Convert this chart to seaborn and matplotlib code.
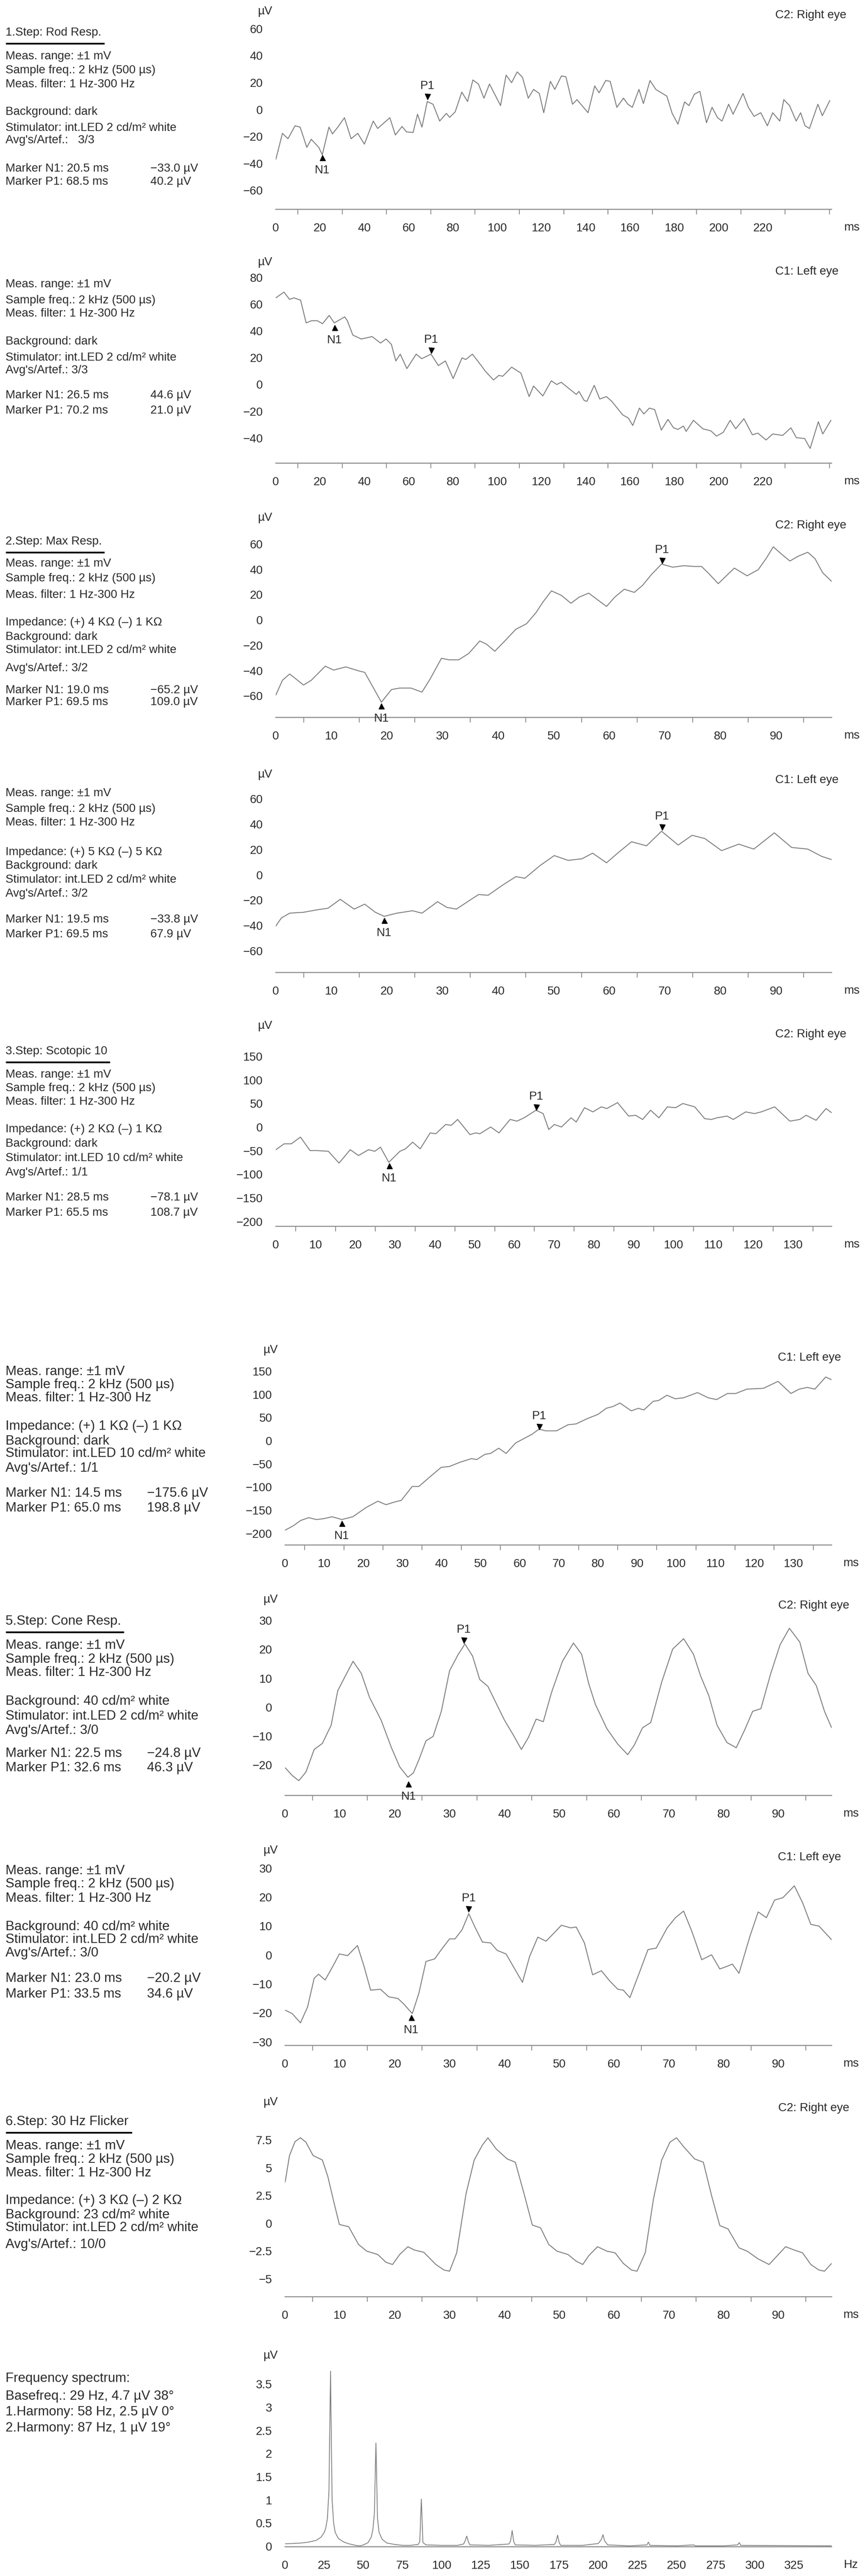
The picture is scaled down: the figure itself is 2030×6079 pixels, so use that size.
import matplotlib
matplotlib.use("Agg")
import numpy as np
import pandas as pd
import matplotlib.pyplot as plt
import seaborn as sns
from matplotlib.lines import Line2D

W, H = 2031, 6079
PT = 0.72  # points per pixel at dpi=100

TRACE = "#7a7a7a"
AXIS = "#8e8e8e"
TEXT = "#2a2a2a"

# ---------------- data (t in ms / f in Hz, amplitude in uV) ----------------
rod_right = [(0, -37), (3, -17.6), (5.5, -21.6), (8.7, -12), (11, -13), (14, -28), (16, -22), (19.4, -28),
             (21, -33.5), (24, -13), (25.6, -18), (28, -13), (31, -6), (34, -21.6), (37, -17.6), (40, -25.6),
             (44, -8.5), (46, -14), (51.5, -6), (54, -18.8), (57, -12.5), (59, -16.5), (62, -17), (64, -3.4),
             (66, -13), (68.4, 6), (71, 4), (74, -8.5), (77, -2.8), (78.5, -5.7), (81, -1.7), (84, 13),
             (86.6, 6), (89, 22), (91.5, 19), (94, 8.5), (96.5, 19), (99, 11), (101.5, 3), (104, 25.6),
             (106.5, 20), (109, 28), (111.4, 24), (114, 8.5), (116.4, 15), (119, 12), (121, -2.3), (124, 21),
             (126, 15), (129, 25), (131, 24.4), (134, 4), (136, 7.4), (141, -2.3), (144, 17.6), (146, 12.5),
             (149, 21.6), (151, 21), (154, 1.7), (157, 8.5), (159, 4), (161, 1.7), (164, 15), (166, 4.5),
             (169, 21.6), (171.6, 15), (176.6, 10), (179, -2.8), (181.6, -10.8), (184.6, 5.7), (186.6, 3),
             (189, 11.4), (191.5, 13.6), (194.5, -9.7), (197, 1.7), (199.5, -6), (201.5, -8.5), (204.5, 4),
             (206.5, -3.4), (211, 12), (213.4, 1.7), (216, -5), (219, -2.3), (222, -12), (224.4, -2.3),
             (227.6, -8.5), (229.4, 7.4), (232, 3), (235, -8.5), (237, -2.3), (239, -12), (241, -14),
             (244.8, 4), (246.8, -4.5), (250.2, 6.8)]

rod_left = [(0, 64.7), (3.7, 69), (6.2, 63.6), (8.2, 64.7), (11.2, 63), (13.7, 46), (16.2, 47.7), (18.7, 47.7),
            (21.1, 45.4), (24.1, 51.6), (26.4, 46), (31.1, 50.5), (32.3, 47.7), (34.8, 36.9), (38.6, 34),
            (43.5, 35.8), (47.3, 31), (49.8, 34), (52.2, 30), (54.2, 17.6), (56.2, 22.7), (59.2, 11.9),
            (63.4, 22.7), (65.9, 19.3), (70.1, 22.7), (73.4, 14.2), (76.6, 17.6), (80.1, 4.5), (84.1, 19.9),
            (85.8, 18.7), (88.8, 22.7), (93.3, 13), (94.5, 10.2), (98.3, 3.4), (100.7, 6.8), (102.5, 6.2),
            (106.5, 13), (110.7, 8.5), (114.4, -9), (116.4, -1.1), (120.6, -8.5), (124.4, 2.8), (126.9, 0),
            (128.9, 1.7), (135.7, -7.4), (136.9, -5.1), (139.3, -12), (140.5, -12.5), (143.8, -0.6),
            (146.3, -10.8), (149.3, -9), (151.7, -12.5), (156.7, -22.7), (159.2, -25), (161.2, -30.6),
            (164.2, -17.6), (166.2, -22), (168.7, -17.6), (171.1, -18.7), (174.1, -34), (177.1, -26),
            (179.6, -32.3), (181.6, -33.5), (184.1, -31), (185.3, -35), (188.6, -26.7), (192.8, -33),
            (196.5, -34.6), (199, -38.5), (202, -35.8), (205.2, -26.7), (207.7, -33), (211.4, -25.5),
            (215.2, -37.5), (217.7, -36.3), (221.4, -41.4), (224.4, -36.9), (228.9, -38), (232.6, -32.3),
            (235.1, -39.7), (238.8, -40.3), (241.3, -47.7), (245, -27.8), (247, -36.9), (250.7, -26.7)]

max_right = [(0, -59.4), (1.2, -47.6), (2.5, -42.7), (5, -51.4), (6.4, -47.6), (8.9, -36.5), (10.4, -39.6),
             (12.6, -37.1), (14.9, -40.2), (16, -41.4), (17.9, -56.3), (19, -65), (20.8, -55), (22.3, -53.8),
             (24.3, -53.8), (26.3, -57), (27.8, -46.4), (29.8, -30.3), (31.2, -31.5), (32.9, -31.5),
             (34.7, -26.5), (36.7, -16.6), (37.9, -19.1), (39.4, -24.7), (41.2, -16.6), (43.2, -7.3),
             (45.1, -3), (46.8, 5.7), (48.1, 14.4), (49.6, 23), (51.4, 19.4), (53.1, 13.2), (54.6, 18.1),
             (56.3, 21.2), (58, 15.6), (59.5, 10.7), (61, 18.1), (62.7, 24.3), (64.5, 21.8), (66, 27.4),
             (67.5, 35.5), (69.4, 44.2), (71.4, 41.7), (73.4, 42.9), (75.2, 42.3), (76.6, 42.3), (77.9, 36.7),
             (79.6, 28.7), (80.9, 34.2), (82.5, 41), (84.8, 34.9), (86.8, 39.8), (88.3, 49.1), (89.5, 57.8),
             (91.1, 51.6), (92.5, 46.6), (94, 50.4), (95.7, 53.5), (97, 48.5), (98.4, 37.3), (100, 30.5)]

max_left = [(0, -40.4), (1, -34), (2.5, -30.2), (5, -29.5), (7.4, -27.6), (9.4, -26.3), (11.6, -19.3),
            (14.1, -27), (16, -23.1), (17.9, -29.5), (19.5, -32.7), (21.8, -30.2), (24.6, -28.3), (26.3, -30.2),
            (29.1, -21.2), (30.8, -25.7), (32.5, -27), (34.7, -20.6), (36.5, -15.5), (38.2, -16.1), (40.7, -8.4),
            (43.2, -1.4), (44.8, -2.7), (47.6, 7.5), (50.1, 15.2), (52.6, 11.4), (55.1, 12.7), (57, 17.1),
            (59.5, 9.5), (61.5, 17.1), (64, 26.1), (66.7, 22.9), (69.4, 34.4), (72.4, 23.5), (74.9, 31.2),
            (77.2, 28.6), (80.2, 19.1), (83.3, 24.2), (86, 20.3), (89.7, 33.1), (92.8, 21.6), (95.7, 20.3),
            (98.2, 14.6), (100, 12)]

scot_right = [(0, -47.7), (2.1, -35.2), (3.9, -35.2), (6.2, -21), (8.6, -49.5), (10.4, -49.5), (13.2, -51),
              (15.9, -76), (18.7, -47.7), (20.8, -60), (23.3, -47.7), (24.9, -51), (26.3, -42.3), (28.4, -74.4),
              (31.2, -51), (32.6, -45.9), (34.4, -31.7), (36.3, -45.9), (38.8, -12.1), (40.2, -13.9), (42.7, 5.7),
              (44.1, 3.9), (45.7, 16.4), (48.8, -15.7), (50.2, -12.1), (51.3, -13.9), (54, 0.4), (56.1, -12.1),
              (58.9, 16.4), (60.6, 12.8), (62.4, 19.9), (65.4, 35.9), (67.2, 28.8), (68.6, -5), (70, 5.7),
              (71.8, 0.4), (74.2, 19.9), (75.5, 11), (77.6, 41.3), (79.7, 32.4), (81.8, 43), (83.2, 39.5),
              (85.9, 52), (88.7, 23.5), (90.4, 25.3), (92.2, 16.4), (94.2, 35.9), (96.3, 19.9), (98.4, 43),
              (100.5, 41.3), (102.3, 50.2), (105.3, 43), (107.8, 18.1), (109.5, 16.4), (110.9, 19.9),
              (113.4, 23.5), (115, 16.4), (118.1, 32.4), (120.3, 28.8), (122, 32.4), (125.4, 43), (129.2, 12.8),
              (131.7, 16.4), (133.3, 25.3), (135.8, 14.6), (138.3, 39.5), (139.7, 30.6)]

scot_left = [(0, -193), (2, -184), (4, -172), (6, -166), (8, -170), (10, -168), (12, -164), (14.5, -170),
             (17.3, -164), (20.8, -143.6), (23.7, -130.5), (25.8, -138), (27.9, -132.4), (29.7, -128.6),
             (32.5, -98.6), (34.2, -98.6), (37, -78), (39.9, -57.4), (42, -55.5), (44.8, -46.1), (47.6, -38.6),
             (49, -40.5), (51.1, -29.2), (52.5, -27.4), (54.6, -16.1), (56.5, -27.4), (58.9, -4.9), (61, 4.5),
             (63.1, 13.9), (64.9, 25.1), (66.6, 21.4), (69.4, 21.4), (72.3, 34.5), (74.4, 36.4), (77.2, 47.6),
             (80, 57), (82.1, 70.1), (83.8, 73.9), (85.6, 81.4), (88.5, 64.5), (90.3, 70.1), (91.7, 66.4),
             (94.1, 85.1), (95.5, 87), (97.6, 98.2), (99.7, 90.7), (101.8, 92.6), (105.4, 103.9), (108.2, 92.6),
             (110.3, 88.9), (113.1, 102), (115.2, 102), (118, 111.4), (122.3, 113.2), (126, 128.2),
             (129.3, 102), (131.4, 111.4), (133.5, 115.1), (135.4, 111.4), (138.2, 137.6), (139.6, 132)]

cone_right = [(0, -20.9), (1.3, -23.6), (2.5, -25.4), (3.8, -22.4), (5.3, -14.6), (6.8, -12.5), (8.4, -6.2),
              (9.6, 5.7), (10.9, 10.5), (12.4, 15.9), (13.9, 11.7), (15.4, 3.4), (17.5, -4.4), (19.4, -14),
              (20.9, -20.6), (22.4, -24.2), (23.4, -22.7), (24.4, -18.2), (25.7, -11.6), (27, -10.1),
              (28.5, -1.4), (30, 12.6), (31.5, 18), (32.8, 21.9), (34.2, 17.7), (35.5, 9.6), (37, 7.2),
              (38.6, 1), (40, -4.4), (41.6, -9.5), (43.1, -14.6), (44.4, -10.4), (45.8, -4.1), (47.1, -5),
              (48.6, 5.1), (50.6, 15.9), (52.6, 22.2), (54.1, 18.3), (55.4, 8.1), (56.6, 1), (58.7, -7.4),
              (60.7, -12.8), (62.5, -16.4), (63.7, -13.1), (65.2, -7.1), (66.7, -5.3), (68.7, 8.7),
              (70.7, 20.1), (72.7, 23.7), (74.5, 18.3), (75.8, 10.8), (77.3, 4), (78.8, -6.2), (80.6, -12.2),
              (82.3, -14), (83.8, -8), (85.3, -1.4), (86.8, -0.5), (88.6, 11.7), (90.3, 21.6), (92, 27.3),
              (93.9, 22.5), (95.4, 11.7), (96.9, 7.5), (98.4, -1.4), (99.7, -7.1)]

cone_left = [(0, -19), (1.3, -20.2), (2.8, -23.4), (4.1, -17.9), (5.3, -8), (6.1, -6.6), (7.3, -8.6),
             (8.7, -3.9), (9.9, 0.4), (11.4, -0.2), (13.2, 3.3), (14.4, -3.9), (15.6, -12.1), (17.4, -11.8),
             (18.9, -14.4), (20.6, -15), (21.7, -17), (23.2, -20.2), (24.4, -13.2), (25.7, -2.2), (27.3, -1.3),
             (28.5, 1.9), (30, 5.6), (31, 5.6), (32.3, 8.8), (33.5, 14.3), (34.7, 9.4), (36, 4.5), (37.5, 4.2),
             (38.7, 1.6), (40.3, 0.4), (41.8, -4.5), (43.3, -9.4), (44.6, -0.5), (46.1, 6.2), (47.6, 4.8),
             (49.1, 7.7), (50.4, 10.3), (52.1, 9.4), (53.1, 9.7), (54.6, 4.2), (56.1, -6.8), (57.7, -5.4),
             (59.2, -8.9), (60.7, -11.8), (61.7, -12.1), (62.9, -14.7), (64.7, -5.7), (66.2, 1.9), (67.7, 2.4),
             (69.7, 9.4), (71.2, 12.9), (72.7, 15.2), (74.2, 8.2), (76, -1.6), (77.8, 0.1), (79.3, -4.8),
             (80.6, -3.9), (81.6, -3.1), (82.8, -6.3), (84.8, 6.5), (86.3, 14.9), (87.8, 12.9), (89.3, 19),
             (90.8, 19.8), (92.9, 23.9), (94.4, 18.1), (95.9, 10.6), (97.4, 10), (99.7, 5.3)]

flicker_right = [(0, 3.7), (0.8, 6.1), (1.8, 7.35), (2.8, 7.7), (3.8, 7.3), (5.1, 6.1), (6.8, 5.7), (7.8, 4.2),
                 (8.9, 1.9), (9.9, -0.1), (11.6, -0.3), (13.4, -1.9), (14.9, -2.5), (16.9, -2.8), (18.4, -3.5),
                 (19.6, -3.7), (20.9, -2.8), (22.4, -2.1), (23.6, -2.4), (25.3, -2.6), (27.5, -3.7), (29, -4.2),
                 (30, -4.3), (31.3, -2.65), (33, 2.65), (34.5, 5.7), (36, 7.05), (37, 7.7), (38.5, 6.7),
                 (40.5, 5.8), (42, 5.5), (43.6, 2.65), (45.1, -0.15), (46.6, -0.4), (48.1, -1.9), (49.6, -2.5),
                 (51.6, -2.8), (53.1, -3.4), (54.3, -3.7), (55.4, -2.9), (57, -2.1), (58.7, -2.5), (60.2, -2.65),
                 (61.7, -3.6), (63.2, -4.2), (64.2, -4.3), (65.7, -2.65), (67.2, 2.2), (68.7, 5.7), (70.2, 7.3),
                 (71.4, 7.7), (72.7, 6.9), (74.7, 5.8), (76.3, 5.5), (77.8, 2.5), (79.3, -0.2), (80.8, -0.5),
                 (82.8, -2.2), (84.3, -2.5), (86.3, -3.2), (88.3, -3.7), (89.8, -2.9), (91.3, -2.1), (92.9, -2.4),
                 (94.4, -2.65), (95.9, -3.7), (97.4, -4.2), (98.4, -4.3), (99.7, -3.6)]

spectrum = [(0, 0.055), (5, 0.06), (10, 0.07), (15, 0.09), (20, 0.13), (23, 0.2), (25, 0.3), (26, 0.4),
            (27, 0.6), (28, 1.2), (29, 3.78), (30, 1.0), (31, 0.5), (32, 0.3), (34, 0.17), (37, 0.1), (40, 0.06),
            (45, 0.02), (48, 0.01), (50, 0.03), (53, 0.08), (55, 0.2), (56, 0.35), (57, 0.7), (58, 2.23),
            (59, 0.6), (60, 0.3), (62, 0.15), (65, 0.07), (70, 0.04), (75, 0.02), (80, 0.02), (85, 0.04),
            (86, 0.1), (87, 1.02), (88, 0.08), (90, 0.03), (100, 0.02), (110, 0.02), (114, 0.05), (115, 0.12),
            (116, 0.22), (117, 0.1), (118, 0.03), (130, 0.02), (143, 0.05), (144, 0.12), (145, 0.34),
            (146, 0.1), (147, 0.03), (160, 0.02), (172, 0.04), (173, 0.1), (174, 0.24), (175, 0.08),
            (176, 0.02), (190, 0.02), (200, 0.06), (202, 0.15), (203, 0.25), (204, 0.12), (206, 0.03),
            (220, 0.01), (231, 0.03), (232, 0.09), (233, 0.02), (250, 0.01), (261, 0.03), (262, 0.01),
            (280, 0.01), (289, 0.03), (290, 0.08), (291, 0.02), (349, 0.01)]

# markers: (time, triangle level)
n1_marks = [(21, -35.5), (26.5, 42.6), (19.0, -68), (19.5, -36), (28.5, -82), (14.5, -178), (22.5, -26.5), (23.0, -21.6)]
p1_marks = [(68.5, 9.6), (70.2, 25.5), (69.5, 47), (69.5, 37.6), (65.5, 42), (65.0, 30), (32.6, 23.2), (33.5, 15.9)]

info_texts = [
    [(133, "Meas. range: ±1 mV"), (166, "Sample freq.: 2 kHz (500 µs)"), (199, "Meas. filter: 1 Hz-300 Hz"),
     (264, "Background: dark"), (302, "Stimulator: int.LED 2 cd/m² white"), (331, "Avg's/Artef.:   3/3"),
     (398, "Marker N1: 20.5 ms"), (429, "Marker P1: 68.5 ms")],
    [(671, "Meas. range: ±1 mV"), (709, "Sample freq.: 2 kHz (500 µs)"), (740, "Meas. filter: 1 Hz-300 Hz"),
     (806, "Background: dark"), (844, "Stimulator: int.LED 2 cd/m² white"), (874, "Avg's/Artef.: 3/3"),
     (933, "Marker N1: 26.5 ms"), (969, "Marker P1: 70.2 ms")],
    [(1330, "Meas. range: ±1 mV"), (1365, "Sample freq.: 2 kHz (500 µs)"), (1404, "Meas. filter: 1 Hz-300 Hz"),
     (1469, "Impedance: (+) 4 KΩ (–) 1 KΩ"), (1503, "Background: dark"),
     (1534, "Stimulator: int.LED 2 cd/m² white"), (1577, "Avg's/Artef.: 3/2"),
     (1629, "Marker N1: 19.0 ms"), (1657, "Marker P1: 69.5 ms")],
    [(1872, "Meas. range: ±1 mV"), (1909, "Sample freq.: 2 kHz (500 µs)"), (1941, "Meas. filter: 1 Hz-300 Hz"),
     (2011, "Impedance: (+) 5 KΩ (–) 5 KΩ"), (2043, "Background: dark"),
     (2076, "Stimulator: int.LED 2 cd/m² white"), (2109, "Avg's/Artef.: 3/2"),
     (2170, "Marker N1: 19.5 ms"), (2205, "Marker P1: 69.5 ms")],
    [(2536, "Meas. range: ±1 mV"), (2568, "Sample freq.: 2 kHz (500 µs)"), (2600, "Meas. filter: 1 Hz-300 Hz"),
     (2665, "Impedance: (+) 2 KΩ (–) 1 KΩ"), (2699, "Background: dark"),
     (2733, "Stimulator: int.LED 10 cd/m² white"), (2767, "Avg's/Artef.: 1/1"),
     (2826, "Marker N1: 28.5 ms"), (2862, "Marker P1: 65.5 ms")],
    [(3237, "Meas. range: ±1 mV"), (3268, "Sample freq.: 2 kHz (500 µs)"), (3299, "Meas. filter: 1 Hz-300 Hz"),
     (3366, "Impedance: (+) 1 KΩ (–) 1 KΩ"), (3401, "Background: dark"),
     (3430, "Stimulator: int.LED 10 cd/m² white"), (3465, "Avg's/Artef.: 1/1"),
     (3524, "Marker N1: 14.5 ms"), (3559, "Marker P1: 65.0 ms")],
    [(3883, "Meas. range: ±1 mV"), (3916, "Sample freq.: 2 kHz (500 µs)"), (3947, "Meas. filter: 1 Hz-300 Hz"),
     (4015, "Background: 40 cd/m² white"), (4050, "Stimulator: int.LED 2 cd/m² white"),
     (4084, "Avg's/Artef.: 3/0"), (4138, "Marker N1: 22.5 ms"), (4172, "Marker P1: 32.6 ms")],
    [(4415, "Meas. range: ±1 mV"), (4446, "Sample freq.: 2 kHz (500 µs)"), (4480, "Meas. filter: 1 Hz-300 Hz"),
     (4547, "Background: 40 cd/m² white"), (4577, "Stimulator: int.LED 2 cd/m² white"),
     (4609, "Avg's/Artef.: 3/0"), (4669, "Marker N1: 23.0 ms"), (4706, "Marker P1: 33.5 ms")],
    [(5064, "Meas. range: ±1 mV"), (5096, "Sample freq.: 2 kHz (500 µs)"), (5128, "Meas. filter: 1 Hz-300 Hz"),
     (5193, "Impedance: (+) 3 KΩ (–) 2 KΩ"), (5227, "Background: 23 cd/m² white"),
     (5257, "Stimulator: int.LED 2 cd/m² white"), (5297, "Avg's/Artef.: 10/0")],
    [(5613, "Frequency spectrum:"), (5655, "Basefreq.: 29 Hz, 4.7 µV 38°"),
     (5692, "1.Harmony: 58 Hz, 2.5 µV 0°"), (5730, "2.Harmony: 87 Hz, 1 µV 19°")],
]
marker_values = [("−33.0 µV", "40.2 µV"), ("44.6 µV", "21.0 µV"), ("−65.2 µV", "109.0 µV"),
                 ("−33.8 µV", "67.9 µV"), ("−78.1 µV", "108.7 µV"), ("−175.6 µV", "198.8 µV"),
                 ("−24.8 µV", "46.3 µV"), ("−20.2 µV", "34.6 µV")]
step_titles = [(0, 77, "1.Step: Rod Resp.", 247), (2, 1278, "2.Step: Max Resp.", 247),
               (4, 2481, "3.Step: Scotopic 10", 260), (6, 3826, "5.Step: Cone Resp.", 293),
               (8, 5007, "6.Step: 30 Hz Flicker", 312)]
eye_labels = ["C2: Right eye", "C1: Left eye", "C2: Right eye", "C1: Left eye", "C2: Right eye",
              "C1: Left eye", "C2: Right eye", "C1: Left eye", "C2: Right eye", None]

# ---------------- layout (pixels) ----------------
# x0, x1, y_top, y_bottom(x axis), xlim, ylim
layout = [
    (651, 1963, 52, 494, (0, 251), (-74, 65)),
    (651, 1963, 641, 1093, (0, 251), (-58.7, 84.3)),
    (651, 1963, 1254, 1693, (0, 100), (-77, 70)),
    (651, 1963, 1855, 2295, (0, 100), (-77, 70)),
    (651, 1963, 2455, 2894, (0, 139.7), (-210, 184)),
    (673, 1963, 3213, 3646, (0, 139.7), (-225, 171)),
    (673, 1963, 3805, 4237, (0, 99.7), (-30.5, 32.8)),
    (673, 1963, 4395, 4827, (0, 99.7), (-31.2, 32)),
    (673, 1963, 4995, 5420, (0, 99.7), (-6.6, 9.6)),
    (673, 1963, 5577, 6010, (0, 349), (-0.01, 3.95)),
]
uv_pos = [(625, 27), (625, 619), (625, 1222), (625, 1828), (625, 2421),
          (638, 3186), (638, 3775), (638, 4367), (638, 4961), (638, 5559)]
eye_pos = [(1998, 36), (1979, 641), (1998, 1240), (1979, 1841), (1998, 2441),
           (1985, 3204), (2005, 3789), (1985, 4383), (2005, 4975), None]
# x labels, extra long ticks, mid step, minor step, y majors, y minor step
ticks = [
    (np.arange(0, 221, 20), [240], 10, 2, np.arange(-60, 61, 20), 2),
    (np.arange(0, 221, 20), [240], 10, 2, np.arange(-40, 81, 20), 2),
    (np.arange(0, 91, 10), [], 5, 1, np.arange(-60, 61, 20), 2),
    (np.arange(0, 91, 10), [], 5, 1, np.arange(-60, 61, 20), 2),
    (np.arange(0, 131, 10), [], 5, 1, np.arange(-200, 151, 50), 5),
    (np.arange(0, 131, 10), [], 5, 1, np.arange(-200, 151, 50), 5),
    (np.arange(0, 91, 10), [], 5, 1, np.arange(-20, 31, 10), 1),
    (np.arange(0, 91, 10), [], 5, 1, np.arange(-30, 31, 10), 1),
    (np.arange(0, 91, 10), [], 5, 1, np.arange(-5, 7.6, 2.5), 0.5),
    (np.arange(0, 326, 25), [], None, 5, np.arange(0, 3.6, 0.5), 0.1),
]
series = [rod_right, rod_left, max_right, max_left, scot_right, scot_left,
          cone_right, cone_left, flicker_right, spectrum]

sns.set_style("white")
plt.rcParams["font.family"] = ["Liberation Sans", "DejaVu Sans"]

fig = plt.figure(figsize=(W / 100, H / 100), dpi=100)


def fmt(v):
    return f"{v:g}".replace("-", "\u2212")


def ftext(x, y, s, size, **kw):
    fig.text(x / W, 1 - y / H, s, fontsize=size, color=TEXT, va="center", **kw)


for i, (x0, x1, yt, yb, xlim, ylim) in enumerate(layout):
    ax = fig.add_axes([x0 / W, 1 - yb / H, (x1 - x0) / W, (yb - yt) / H])
    ax.patch.set_alpha(0)
    for s in ("top", "right", "left"):
        ax.spines[s].set_visible(False)
    ax.spines["bottom"].set_color(AXIS)
    ax.spines["bottom"].set_linewidth(2.5 * PT)

    df = pd.DataFrame(series[i], columns=["t", "v"])
    lw = 1.3 if i == 9 else 1.5
    sns.lineplot(data=df, x="t", y="v", ax=ax, color=TRACE, linewidth=lw, sort=False, estimator=None)
    ax.set_xlabel("")
    ax.set_ylabel("")
    ax.set_xlim(*xlim)

    xl, xextra, xmid, xmin_, ymaj, ymin_ = ticks[i]
    ax.set_xticks(list(xl) + list(xextra), labels=[fmt(v) for v in xl] + [""] * len(xextra))
    ax.set_xticks(np.arange(0, xlim[1], xmin_), minor=True)
    ax.set_yticks(ymaj, labels=[fmt(v) for v in ymaj])
    ax.set_yticks(np.arange(ymaj[0] - 10 * ymin_, ylim[1], ymin_), minor=True)
    ax.set_ylim(*ylim)
    fsz = 20
    ax.tick_params(axis="x", which="major", length=26 * PT, width=2 * PT, color=AXIS,
                   labelsize=fsz, labelcolor=TEXT, pad=4)
    ax.tick_params(axis="x", which="minor", length=6 * PT, width=1.6 * PT, color=AXIS)
    ax.tick_params(axis="y", which="major", length=25 * PT, width=2 * PT, color=AXIS,
                   labelsize=fsz, labelcolor=TEXT, pad=4)
    ax.tick_params(axis="y", which="minor", length=9 * PT, width=1.6 * PT, color=AXIS)
    if xmid is not None:
        mids = [m for m in np.arange(xmid, xlim[1], xmid) if not np.isclose(m % (2 * xmid), 0)]
        sec = ax.secondary_xaxis("bottom")
        sec.set_xticks(mids, labels=[""] * len(mids))
        sec.tick_params(length=12 * PT, width=2 * PT, color=AXIS)
        sec.spines["bottom"].set_visible(False)

    # N1 / P1 markers
    if i < len(n1_marks):
        tn, yn = n1_marks[i]
        tp, yp = p1_marks[i]
        ax.plot([tn], [yn], marker="^", color="black", markersize=13 * PT, linestyle="none")
        ax.plot([tp], [yp], marker="v", color="black", markersize=13 * PT, linestyle="none")
        ax.annotate("N1", (tn, yn), xytext=(0, -30 * PT), textcoords="offset points",
                    ha="center", va="center", fontsize=20, color=TEXT)
        ax.annotate("P1", (tp, yp), xytext=(0, 25 * PT), textcoords="offset points",
                    ha="center", va="center", fontsize=20, color=TEXT)

    # unit labels and eye label
    ftext(uv_pos[i][0], uv_pos[i][1], "µV", 20, ha="center")
    ftext(2011 if i < 5 else 2009, yb + 43, "Hz" if i == 9 else "ms", 20, ha="center")
    if eye_labels[i]:
        ftext(eye_pos[i][0], eye_pos[i][1], eye_labels[i], 20, ha="right")

    # info text block
    tsize = 20 if i < 5 else 22.5
    for y, s in info_texts[i]:
        ftext(13, y, s, tsize, ha="left")
    if i < len(marker_values):
        vx = 355 if i < 5 else 347
        ftext(vx, info_texts[i][-2][0], marker_values[i][0], tsize, ha="left")
        ftext(vx, info_texts[i][-1][0], marker_values[i][1], tsize, ha="left")

for idx, y, title, xe in step_titles:
    tsize = 20 if idx < 5 else 22.5
    ftext(13, y, title, tsize, ha="left")
    yb_ = y + 26
    fig.add_artist(Line2D([14 / W, xe / W], [1 - yb_ / H] * 2, color="black", linewidth=4 * PT,
                          solid_capstyle="butt"))

fig.savefig("out.png", dpi=100, facecolor="white")
